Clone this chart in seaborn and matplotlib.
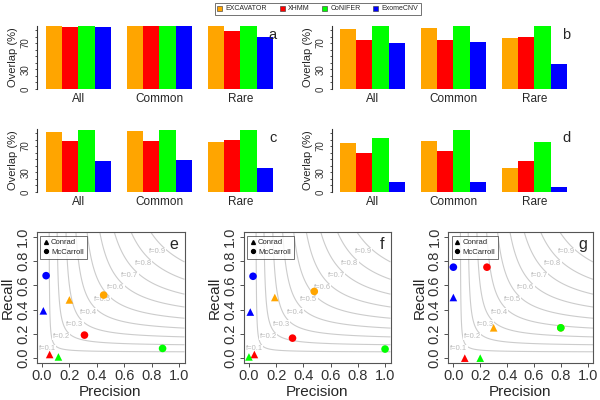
import numpy as np
import pandas as pd
import matplotlib.pyplot as plt
import seaborn as sns
from matplotlib.patches import Patch
from matplotlib.lines import Line2D

methods = ["EXCAVATOR", "XHMM", "CoNIFER", "ExomeCNV"]
colors = ["#FFA500", "#FF0000", "#00FF00", "#0000FF"]
groups = ["All", "Common", "Rare"]

# overlap (%) per method, values in group order All / Common / Rare
overlap_a = [[96, 96, 96], [94, 96, 88], [96, 96, 96], [95, 96, 80]]
overlap_b = [[92, 93, 77], [75, 74, 80], [96, 96, 96], [70, 72, 38]]
overlap_c = [[91, 93, 76], [78, 77, 79], [95, 95, 95], [48, 49, 37]]
overlap_d = [[74, 78, 37], [59, 62, 47], [83, 95, 76], [16, 16, 7]]

# precision / recall per method (order as methods) for each reference set
e_prec_conrad = [0.20, 0.056, 0.12, 0.01]
e_rec_conrad = [0.48, 0.03, 0.01, 0.39]
e_prec_mcc = [0.45, 0.31, 0.88, 0.03]
e_rec_mcc = [0.52, 0.19, 0.08, 0.68]

f_prec_conrad = [0.19, 0.04, 0.0, 0.01]
f_rec_conrad = [0.50, 0.03, 0.01, 0.38]
f_prec_mcc = [0.48, 0.32, 1.0, 0.03]
f_rec_mcc = [0.55, 0.165, 0.075, 0.675]

g_prec_conrad = [0.30, 0.085, 0.20, 0.0]
g_rec_conrad = [0.25, 0.0, 0.0, 0.50]
g_prec_mcc = [0.80, 0.25, 0.80, 0.0]
g_rec_mcc = [0.25, 0.75, 0.25, 0.75]

f_levels = [0.1, 0.2, 0.3, 0.4, 0.5, 0.6, 0.7, 0.8, 0.9]

sns.set_theme(style="ticks")
plt.rcParams["font.family"] = ["Liberation Sans", "DejaVu Sans"]

fig = plt.figure(figsize=(6, 4), dpi=100)


def px_axes(l, t, r, b):
    return fig.add_axes([l / 600, 1 - b / 400, (r - l) / 600, (b - t) / 400])


def bar_panel(box, values, letter, xlim):
    ax = px_axes(*box)
    rows = []
    for m, vals in zip(methods, values):
        for g, v in zip(groups, vals):
            rows.append({"group": g, "method": m, "overlap": v})
    df = pd.DataFrame(rows)
    sns.barplot(data=df, x="group", y="overlap", hue="method", palette=colors,
                hue_order=methods, order=groups, saturation=1, edgecolor="none",
                linewidth=0, legend=False, ax=ax)
    ax.set_xlim(*xlim)
    ax.set_ylim(0, 96)
    for s in ["top", "right", "bottom"]:
        ax.spines[s].set_visible(False)
    ax.spines["left"].set_color("#333333")
    ax.spines["left"].set_linewidth(0.8)
    ax.set_yticks(range(0, 100, 10))
    ax.set_yticklabels(["0", "", "", "30", "", "", "", "70", "", ""],
                       rotation=90, va="center", fontsize=7)
    ax.tick_params(axis="y", length=1.5, width=0.6, pad=3, colors="#333333")
    ax.tick_params(axis="x", length=0, pad=3, labelsize=8.5)
    ax.set_xlabel("")
    ax.set_ylabel("Overlap (%)", fontsize=8, labelpad=2)
    ax.text(0.95, 0.97, letter, transform=ax.transAxes, fontsize=10.5,
            ha="right", va="top")
    return ax


bar_panel((37, 26, 289, 89), overlap_a, "a", (-0.51, 2.6))
bar_panel((332, 26, 583, 89), overlap_b, "b", (-0.5, 2.6))
bar_panel((37, 129, 289, 192), overlap_c, "c", (-0.51, 2.6))
bar_panel((332, 129, 583, 192), overlap_d, "d", (-0.5, 2.6))


def pr_panel(box, pc, rc, pm, rm, letter):
    ax = px_axes(*box)
    ax.set_xlim(-0.04, 1.04)
    ax.set_ylim(-0.04, 1.04)
    gp, gr = np.meshgrid(np.linspace(0.001, 1.04, 300), np.linspace(0.001, 1.04, 300))
    fs = 2 * gp * gr / (gp + gr)
    ax.contour(gp, gr, fs, levels=f_levels, colors="#cccccc", linewidths=0.8)
    for lv in f_levels:
        ax.text(lv - 0.06, lv - 0.02, f"f={lv:.1f}", fontsize=5.5, color="#bbbbbb",
                ha="center", va="center",
                bbox=dict(facecolor="white", edgecolor="none", pad=0.2))
    df = pd.DataFrame({
        "precision": pc + pm,
        "recall": rc + rm,
        "method": methods + methods,
        "set": ["Conrad"] * 4 + ["McCarroll"] * 4,
    })
    sns.scatterplot(data=df, x="precision", y="recall", hue="method", style="set",
                    palette=colors, hue_order=methods,
                    markers={"Conrad": "^", "McCarroll": "o"}, s=30, linewidth=0,
                    legend=False, ax=ax, zorder=3)
    for s in ax.spines.values():
        s.set_color("#555555")
        s.set_linewidth(0.8)
    ticks = [0, 0.2, 0.4, 0.6, 0.8, 1.0]
    ax.set_xticks(ticks)
    ax.set_yticks(ticks)
    ax.set_xticklabels([f"{t:.1f}" for t in ticks], fontsize=10.5)
    ax.set_yticklabels([f"{t:.1f}" for t in ticks], fontsize=10.5, rotation=90, va="center")
    ax.tick_params(length=3, width=0.6, pad=1.5, colors="#333333")
    ax.set_xlabel("Precision", fontsize=11, labelpad=1)
    ax.set_ylabel("Recall", fontsize=11, labelpad=1)
    handles = [Line2D([], [], marker="^", color="black", linestyle="none", markersize=2.8),
               Line2D([], [], marker="o", color="black", linestyle="none", markersize=2.8)]
    leg = ax.legend(handles, ["Conrad", "McCarroll"], loc="upper left", fontsize=5.5,
                    frameon=True, fancybox=False, edgecolor="#333333",
                    handlelength=0.6, handletextpad=0.4, borderpad=0.4,
                    labelspacing=0.3, borderaxespad=0.5)
    leg.get_frame().set_linewidth(0.6)
    ax.text(0.96, 0.96, letter, transform=ax.transAxes, fontsize=11.5,
            ha="right", va="top")
    return ax


pr_panel((36.5, 232, 184.5, 363), e_prec_conrad, e_rec_conrad, e_prec_mcc, e_rec_mcc, "e")
pr_panel((243.5, 232, 390.5, 363), f_prec_conrad, f_rec_conrad, f_prec_mcc, f_rec_mcc, "f")
pr_panel((448, 232, 593, 363), g_prec_conrad, g_rec_conrad, g_prec_mcc, g_rec_mcc, "g")

top_handles = [Patch(facecolor=c, edgecolor="#333333", linewidth=0.4) for c in colors]
top_leg = fig.legend(top_handles, methods, loc="center", bbox_to_anchor=(318 / 600, 1 - 9 / 400),
                     ncol=4, fontsize=5, frameon=True, fancybox=False, edgecolor="#333333",
                     handlelength=0.7, handleheight=0.7, handletextpad=0.5,
                     columnspacing=1.8, borderpad=0.35)
top_leg.get_frame().set_linewidth(0.6)

fig.savefig("out.png", dpi=100)
